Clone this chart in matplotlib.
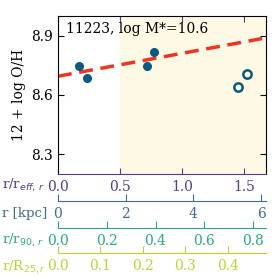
import matplotlib.pyplot as plt
import numpy as np

plt.rcParams['font.family'] = 'DejaVu Serif'
plt.rcParams['font.size'] = 10

# data (r in units of r_eff)
r_filled = [0.17, 0.235, 0.715, 0.777]
oh_filled = [8.747, 8.688, 8.745, 8.816]
oh_err = [0.012, 0.008, 0.022, 0.024]
r_open = [1.449, 1.52]
oh_open = [8.641, 8.708]
fit_intercept = 8.695
fit_slope = 0.116

kpc_per_reff = 3.665
reff_per_r90 = 1.966
reff_per_r25 = 3.42

c_main = '#5b3a8e'
c_kpc = '#3f6c97'
c_r90 = '#2aa882'
c_r25 = '#bcd631'
c_pts = '#0d5a80'

fig = plt.figure(figsize=(2.77, 2.77), dpi=100)
ax = fig.add_axes([58 / 277, 1 - 174 / 277, 208 / 277, 158 / 277])

xmax = 1.677
ax.axvspan(0.5, xmax, color='#fef9e4', zorder=0)
xx = np.array([0, xmax])
ax.plot(xx, fit_intercept + fit_slope * xx, '--', color='#ee3524', lw=2.5, dashes=(4, 2.2), zorder=2)
ax.errorbar(r_filled, oh_filled, yerr=oh_err, fmt='o', color=c_pts, ms=5.5, elinewidth=1.5, capsize=0, zorder=3)
ax.plot(r_open, oh_open, 'o', mfc='none', mec=c_pts, mew=1.8, ms=6, zorder=3)

ax.set_xlim(0, xmax)
ax.set_ylim(8.2, 9.0)
ax.set_yticks([8.3, 8.6, 8.9])
ax.set_xticks([0, 0.5, 1.0, 1.5])
ax.set_ylabel('12 + log O/H')
ax.tick_params(direction='in', top=True, right=True, length=4)
ax.tick_params(axis='x', colors=c_main, labelcolor=c_main, pad=4)
ax.spines['bottom'].set_color(c_main)
ax.text(0.04, 0.96, '11223, log M*=10.6', transform=ax.transAxes, va='top', ha='left')

secs = [
    (-0.171, kpc_per_reff, [0, 2, 4, 6], c_kpc, '{:.0f}'),
    (-0.342, 1 / reff_per_r90, [0, 0.2, 0.4, 0.6, 0.8], c_r90, '{:.1f}'),
    (-0.50, 1 / reff_per_r25, [0, 0.1, 0.2, 0.3, 0.4], c_r25, '{:.1f}'),
]
for loc, k, ticks, col, fmt in secs:
    sec = ax.secondary_xaxis(loc, functions=(lambda x, k=k: x * k, lambda x, k=k: x / k))
    sec.set_xticks(ticks)
    sec.set_xticklabels([fmt.format(t) for t in ticks])
    sec.tick_params(direction='in', length=5, colors=col, labelcolor=col, pad=4)
    sec.spines['bottom'].set_color(col)

labels = [
    (r'r/r$_{eff,\,r}$', c_main, 185),
    ('r [kpc]', c_kpc, 213),
    (r'r/r$_{90,\,r}$', c_r90, 240),
    (r'r/R$_{25,r}$', c_r25, 267),
]
for txt, col, ypx in labels:
    fig.text(2 / 277, 1 - ypx / 277, txt, color=col, va='center', ha='left', fontsize=9.6)

fig.savefig('out.png', dpi=100)
